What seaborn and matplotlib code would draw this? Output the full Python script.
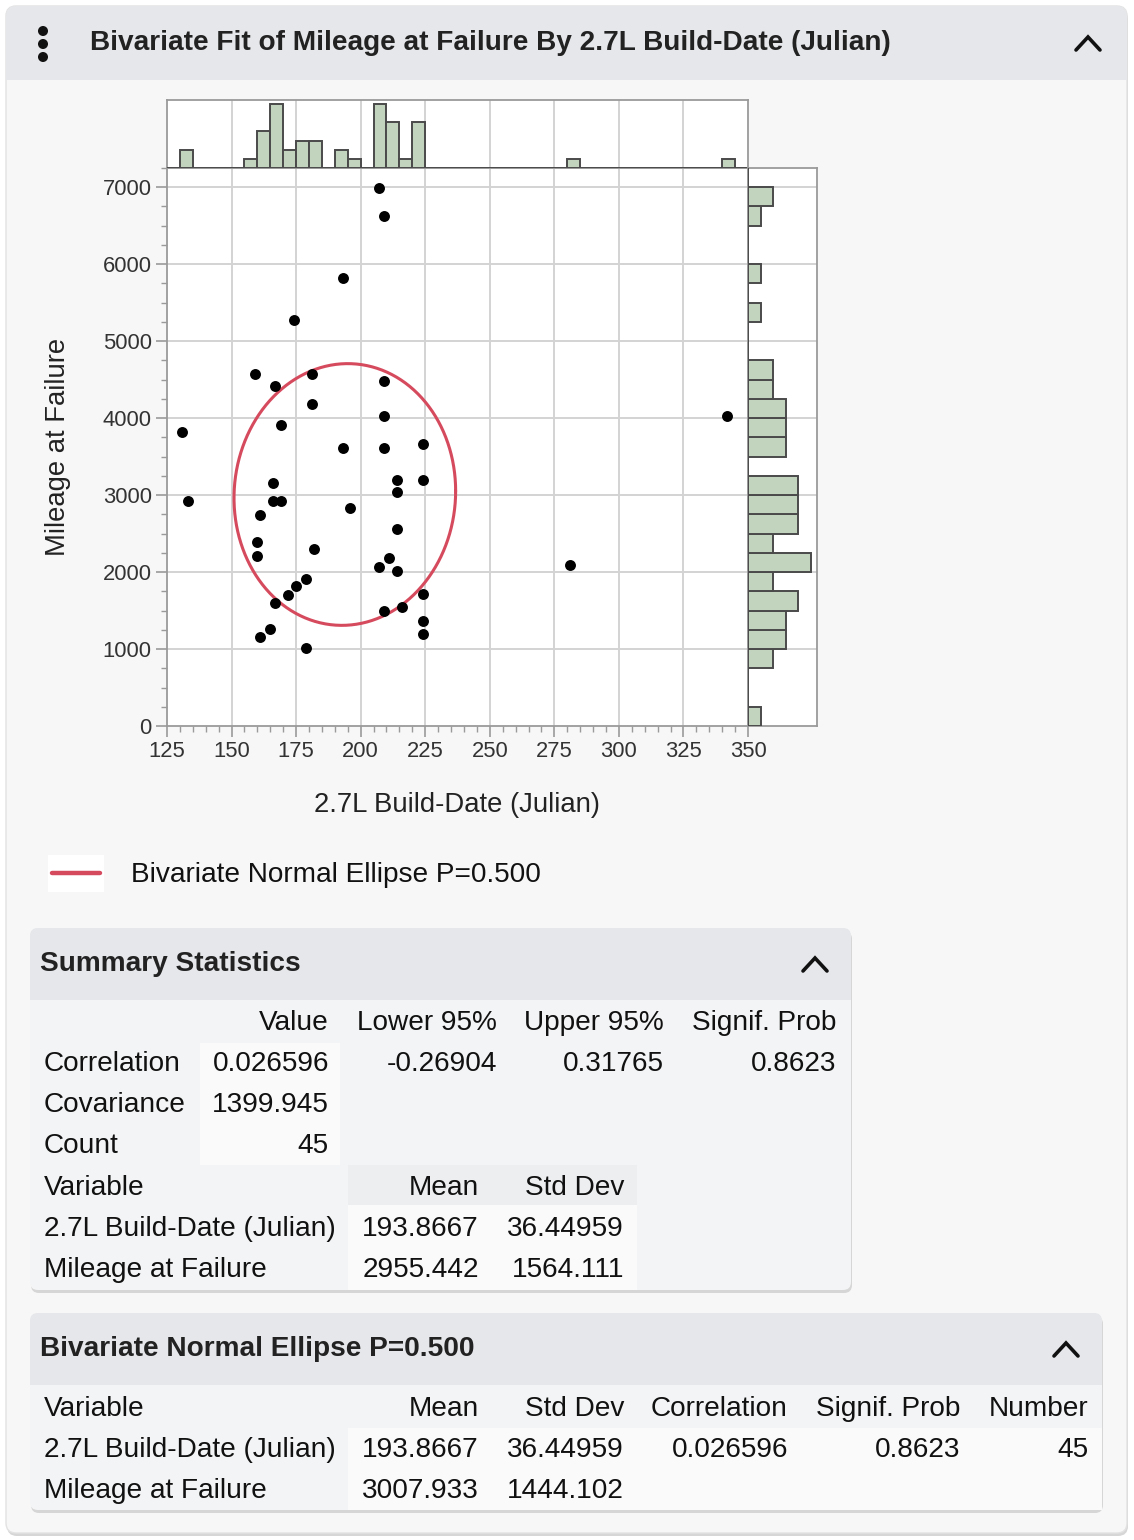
import numpy as np
import pandas as pd
import matplotlib
matplotlib.use("Agg")
import matplotlib.pyplot as plt
import seaborn as sns
from matplotlib.patches import FancyBboxPatch, Rectangle

# data
build_date = [207, 209, 193, 174, 159, 167, 181, 209, 181, 209,
              169, 131, 224, 193, 209, 166, 214, 224, 214, 133,
              166, 169, 161, 196, 214, 160, 160, 182, 211, 207,
              214, 179, 175, 172, 167, 224, 216, 209, 224, 224,
              165, 161, 179, 281, 342]
mileage = [6990, 6630, 5820, 5280, 4570, 4420, 4570, 4480, 4180, 4030,
           3910, 3820, 3670, 3610, 3610, 3160, 3195, 3195, 3035, 2920,
           2920, 2920, 2740, 2830, 2560, 2385, 2210, 2300, 2180, 2060,
           2020, 1910, 1820, 1700, 1600, 1720, 1550, 1490, 1370, 1190,
           1260, 1160, 1010, 2090, 4030]
# mileage rows with no build date (only in the marginal histogram)
mileage_unpaired = [6900, 3850, 2700, 2600, 900, 800, 100]

summary_cols = ["Value", "Lower 95%", "Upper 95%", "Signif. Prob"]
summary_rows = ["Correlation", "Covariance", "Count"]
summary_vals = [["0.026596", "-0.26904", "0.31765", "0.8623"],
                ["1399.945", "", "", ""],
                ["45", "", "", ""]]
variables = ["2.7L Build-Date (Julian)", "Mileage at Failure"]
summary_mean = ["193.8667", "2955.442"]
summary_std = ["36.44959", "1564.111"]

ell_p = 0.5
ell_mean = [193.8667, 3007.933]
ell_std = [36.44959, 1444.102]
ell_corr = 0.026596
ell_prob = 0.8623
ell_n = 45

W, H = 1134, 1540
FONT = ["Liberation Sans", "DejaVu Sans"]
sns.set_theme(style="white")
plt.rcParams["font.family"] = FONT

def rect(x0, y0, x1, y1):
    return [x0 / W, 1 - y1 / H, (x1 - x0) / W, (y1 - y0) / H]

def pt(px):
    return px * 0.72

fig = plt.figure(figsize=(W / 100, H / 100), dpi=100, facecolor="white")

# background panels
bg = fig.add_axes([0, 0, 1, 1], zorder=0)
bg.set_xlim(0, W)
bg.set_ylim(H, 0)
bg.axis("off")

def box(x0, y0, x1, y1, fc, ec="none", r=8, z=0, shadow=False):
    if shadow:
        bg.add_patch(FancyBboxPatch((x0 + 1, y0 + 3), x1 - x0, y1 - y0,
                                    boxstyle=f"round,pad=0,rounding_size={r}",
                                    fc="#d6d6d6", ec="none", zorder=z))
    bg.add_patch(FancyBboxPatch((x0, y0), x1 - x0, y1 - y0,
                                boxstyle=f"round,pad=0,rounding_size={r}",
                                fc=fc, ec=ec, zorder=z + 0.1))

def caret(cx, cy, col="#111111"):
    bg.plot([cx - 12, cx, cx + 12], [cy + 7, cy - 6, cy + 7], color=col,
            lw=2.6, solid_capstyle="round", solid_joinstyle="miter", zorder=5)

box(6, 6, 1127, 1533, "#f7f7f7", ec="#e2e2e2", r=10, shadow=True)
box(6, 6, 1127, 80, "#e5e7ea", r=10, z=1)
bg.add_patch(Rectangle((6, 50), 1121, 30, fc="#e5e7ea", ec="none", zorder=1.2))
for yy in [31, 44, 57]:
    bg.add_patch(plt.Circle((43, yy), 4.3, color="#111111", zorder=3))
bg.text(90, 43, "Bivariate Fit of Mileage at Failure By 2.7L Build-Date (Julian)",
        fontsize=pt(28), fontweight="bold", color="#222222", va="center", ha="left", zorder=5)
caret(1088, 43)

# summary statistics panel
box(30, 928, 851, 1290, "#f3f4f5", r=8, z=1, shadow=True)
box(30, 928, 851, 1000, "#e5e7ea", r=8, z=1.5)
bg.add_patch(Rectangle((30, 980), 821, 20, fc="#e5e7ea", ec="none", zorder=1.7))
bg.add_patch(Rectangle((200, 1043), 140, 122, fc="#fafafa", ec="none", zorder=1.8))
bg.add_patch(Rectangle((348, 1205), 289, 85, fc="#fafafa", ec="none", zorder=1.8))
bg.add_patch(Rectangle((348, 1165), 289, 40, fc="#eceef0", ec="none", zorder=1.8))
bg.text(40, 964, "Summary Statistics", fontsize=pt(28), fontweight="bold",
        color="#222222", va="center", zorder=5)
caret(815, 964)

# ellipse panel
box(30, 1313, 1102, 1510, "#f3f4f5", r=8, z=1, shadow=True)
box(30, 1313, 1102, 1385, "#e5e7ea", r=8, z=1.5)
bg.add_patch(Rectangle((30, 1365), 1072, 20, fc="#e5e7ea", ec="none", zorder=1.7))
bg.add_patch(Rectangle((348, 1428), 754, 82, fc="#fafafa", ec="none", zorder=1.8))
bg.text(40, 1349, f"Bivariate Normal Ellipse P={ell_p:.3f}", fontsize=pt(28),
        fontweight="bold", color="#222222", va="center", zorder=5)
caret(1066, 1349)

tfs = pt(28)
tc = "#111111"
def cell(x, y, s, ha="right"):
    bg.text(x, y, s, fontsize=tfs, color=tc, ha=ha, va="center", zorder=5)

col_x = [329, 497, 664, 836]
for c, x in zip(summary_cols, col_x):
    cell(x, 1023, c)
for i, (r, vals) in enumerate(zip(summary_rows, summary_vals)):
    y = 1064 + 41 * i
    cell(44, y, r, ha="left")
    for v, x in zip(vals, col_x):
        cell(x, y, v)
cell(44, 1188, "Variable", ha="left")
cell(479, 1188, "Mean")
cell(624, 1188, "Std Dev")
for i, v in enumerate(variables):
    y = 1229 + 41 * i
    cell(44, y, v, ha="left")
    cell(479, y, summary_mean[i])
    cell(624, y, summary_std[i])

ell_cols = ["Mean", "Std Dev", "Correlation", "Signif. Prob", "Number"]
ell_x = [479, 624, 788, 960, 1088]
cell(44, 1409, "Variable", ha="left")
for c, x in zip(ell_cols, ell_x):
    cell(x, 1409, c)
row1 = [f"{ell_mean[0]:.4f}", f"{ell_std[0]:.5f}", f"{ell_corr:.6f}", f"{ell_prob:.4f}", str(ell_n)]
row2 = [f"{ell_mean[1]:.3f}", f"{ell_std[1]:.3f}"]
cell(44, 1450, variables[0], ha="left")
for v, x in zip(row1, ell_x):
    cell(x, 1450, v)
cell(44, 1491, variables[1], ha="left")
for v, x in zip(row2, ell_x):
    cell(x, 1491, v)

# legend
ell_col = "#d64a5e"
bg.add_patch(Rectangle((48, 855), 56, 37, fc="white", ec="none", zorder=2))
bg.plot([52, 100], [873, 873], color=ell_col, lw=3.2, zorder=3)
bg.text(131, 875, f"Bivariate Normal Ellipse P={ell_p:.3f}", fontsize=tfs,
        color=tc, va="center", zorder=5)

# axis labels
bg.text(58, 447, "Mileage at Failure", rotation=90, fontsize=pt(27.5),
        color="#222222", ha="center", va="center", zorder=5)
bg.text(457, 805, "2.7L Build-Date (Julian)", fontsize=pt(27.5),
        color="#222222", ha="center", va="center", zorder=5)

# plot axes
grid_c = "#d3d3d3"
frame_c = "#9a9a9a"
fill_c = "#c2d3be"
edge_c = "#4a4a4a"
ymax = 7250

ax = fig.add_axes(rect(167, 168, 748, 726), zorder=2)
ax_top = fig.add_axes(rect(167, 100, 748, 168), zorder=2)
ax_right = fig.add_axes(rect(748, 168, 817, 726), zorder=2)

df = pd.DataFrame({"build": build_date, "mileage": mileage})
all_mileage = mileage + mileage_unpaired

for a in (ax, ax_top, ax_right):
    a.set_facecolor("white")
    for s in a.spines.values():
        s.set_color(frame_c)
        s.set_linewidth(1.3)

xt = np.arange(125, 351, 25)
yt = np.arange(0, 7001, 1000)

ax.set_xlim(125, 350)
ax.set_ylim(0, ymax)
ax.set_xticks(xt)
ax.set_yticks(yt)
ax.set_xticks(np.arange(125, 351, 5), minor=True)
ax.set_yticks(np.arange(0, 7251, 250), minor=True)
for v in xt[1:-1]:
    ax.axvline(v, color=grid_c, lw=1.4, zorder=0)
for v in yt[1:]:
    ax.axhline(v, color=grid_c, lw=1.4, zorder=0)
ax.tick_params(axis="both", which="major", length=8, width=1.2, color=frame_c,
               labelsize=pt(22), labelcolor="#333333", pad=3, direction="out",
               bottom=True, left=True)
ax.tick_params(axis="both", which="minor", length=4, width=1, color=frame_c,
               direction="out", bottom=True, left=True)

sns.scatterplot(data=df, x="build", y="mileage", ax=ax, color="black", s=62,
                linewidth=0, zorder=4)

# P=0.5 bivariate normal ellipse
c = np.sqrt(-2 * np.log(1 - ell_p))
t = np.linspace(0, 2 * np.pi, 400)
ex = ell_mean[0] + c * ell_std[0] * np.cos(t)
ey = ell_mean[1] + c * ell_std[1] * (ell_corr * np.cos(t) + np.sqrt(1 - ell_corr ** 2) * np.sin(t))
ax.plot(ex, ey, color=ell_col, lw=2.2, zorder=3)
ax.set_xlabel("")
ax.set_ylabel("")

# marginal histograms
sns.histplot(x=build_date, binwidth=5, binrange=(125, 350), ax=ax_top,
             color=fill_c, edgecolor=edge_c, linewidth=1.4, alpha=1, zorder=3)
ax_top.set_xlim(125, 350)
ax_top.set_ylim(0, 7.44)
for v in xt[1:-1]:
    ax_top.axvline(v, color=grid_c, lw=1.4, zorder=0)
ax_top.set_xticks([])
ax_top.set_yticks([])
ax_top.set_ylabel("")

sns.histplot(y=all_mileage, binwidth=250, binrange=(0, 7250), ax=ax_right,
             color=fill_c, edgecolor=edge_c, linewidth=1.4, alpha=1, zorder=3)
ax_right.set_ylim(0, ymax)
ax_right.set_xlim(0, 5.48)
for v in yt[1:]:
    ax_right.axhline(v, color=grid_c, lw=1.4, zorder=0)
ax_right.set_xticks([])
ax_right.set_yticks([])
ax_right.set_xlabel("")

fig.savefig("out.png", dpi=100, facecolor=fig.get_facecolor())
